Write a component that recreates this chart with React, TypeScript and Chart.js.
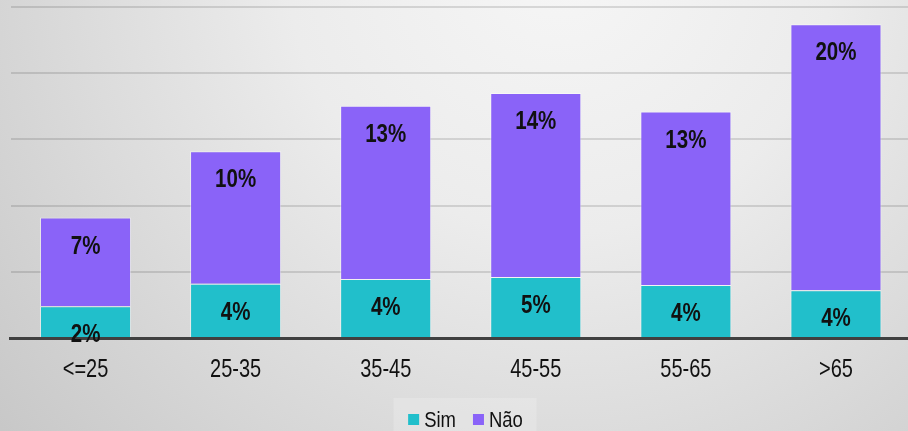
import React, { useEffect, useRef } from "react";
import { Chart, registerables } from "chart.js";

Chart.register(...registerables);

const categories = ["<=25", "25-35", "35-45", "45-55", "55-65", ">65"];
const simValues = [2.4, 4.1, 4.45, 4.6, 4.0, 3.6];
const naoValues = [6.7, 10.0, 13.1, 13.9, 13.1, 20.1];
const seriesNames = ["Sim", "Não"];
const seriesColors = ["#21bfcb", "#8a63f8"];
const yTicks = [0, 5, 10, 15, 20, 25];

const FONT = "'Liberation Sans', Arial, sans-serif";

function drawNarrow(ctx: any, text: string, x: number, y: number, sx: number, align: string) {
  ctx.save();
  ctx.translate(x, y);
  ctx.scale(sx, 1);
  ctx.textAlign = align;
  ctx.fillText(text, 0, 0);
  ctx.restore();
}

const bgPlugin = {
  id: "bgPlugin",
  beforeDraw(chart: any) {
    const { ctx, width, height } = chart;
    ctx.save();
    const g = ctx.createRadialGradient(560, -40, 0, 560, -40, 780);
    g.addColorStop(0, "#f6f6f6");
    g.addColorStop(0.35, "#ececec");
    g.addColorStop(1, "#c4c4c4");
    ctx.fillStyle = g;
    ctx.fillRect(0, 0, width, height);
    ctx.restore();
  },
};

const textPlugin = {
  id: "textPlugin",
  afterDraw(chart: any) {
    const { ctx } = chart;
    ctx.save();
    ctx.fillStyle = "#111";
    ctx.textBaseline = "alphabetic";

    // data labels
    ctx.font = `bold 25px ${FONT}`;
    chart.data.datasets.forEach((ds: any, di: number) => {
      const meta = chart.getDatasetMeta(di);
      meta.data.forEach((bar: any, i: number) => {
        drawNarrow(ctx, `${Math.round(ds.data[i])}%`, bar.x, bar.y + 36, 0.82, "center");
      });
    });

    // category labels
    const xs = chart.scales.x;
    ctx.font = `25px ${FONT}`;
    chart.data.labels.forEach((lab: string, i: number) => {
      drawNarrow(ctx, lab, xs.getPixelForTick(i), xs.bottom + 38.5, 0.8, "center");
    });

    // legend
    ctx.font = `22px ${FONT}`;
    const sx = 0.84;
    const box = 11;
    const items = chart.data.datasets.map((ds: any, i: number) => ({
      text: ds.label,
      color: seriesColors[i],
      w: box + 5 + ctx.measureText(ds.label).width * sx,
    }));
    const gap = 17;
    const total = items.reduce((a: number, it: any) => a + it.w, 0) + gap * (items.length - 1);
    const cx = 465.5;
    ctx.fillStyle = "rgba(255,255,255,0.2)";
    ctx.fillRect(cx - 72, 398, 143, 40);
    let x = cx - total / 2;
    const baseY = 427;
    items.forEach((it: any) => {
      ctx.fillStyle = it.color;
      ctx.fillRect(x, baseY - 13, box, box);
      ctx.fillStyle = "#111";
      drawNarrow(ctx, it.text, x + box + 5, baseY, sx, "left");
      x += it.w + gap;
    });
    ctx.restore();
  },
};

export default function App() {
  const ref = useRef<HTMLCanvasElement | null>(null);
  useEffect(() => {
    if (!ref.current) return;
    const chart = new Chart(ref.current, {
      type: "bar",
      data: {
        labels: categories,
        datasets: [
          {
            label: seriesNames[0],
            data: simValues,
            backgroundColor: seriesColors[0],
            borderColor: "rgba(255,255,255,0.5)",
            borderWidth: 1,
            barPercentage: 0.607,
            categoryPercentage: 1,
          },
          {
            label: seriesNames[1],
            data: naoValues,
            backgroundColor: seriesColors[1],
            borderColor: "rgba(255,255,255,0.45)",
            borderWidth: 1,
            barPercentage: 0.607,
            categoryPercentage: 1,
          },
        ],
      },
      options: {
        responsive: false,
        animation: false,
        layout: { padding: { left: 10.5, right: 1, top: 7, bottom: 93 } },
        plugins: {
          legend: { display: false },
          tooltip: { enabled: false },
        },
        scales: {
          x: {
            stacked: true,
            z: 1,
            grid: { display: false, drawTicks: false },
            border: { display: true, color: "#404040", width: 3 },
            ticks: { display: false },
          },
          y: {
            stacked: true,
            min: yTicks[0],
            max: yTicks[yTicks.length - 1],
            afterBuildTicks: (axis: any) => {
              axis.ticks = yTicks.map((v) => ({ value: v }));
            },
            z: 1,
            grid: { color: "rgba(0,0,0,0.12)", lineWidth: 2, drawTicks: false },
            border: { display: false },
            ticks: { display: false },
          },
        },
      },
      plugins: [bgPlugin, textPlugin],
    });
    return () => chart.destroy();
  }, []);
  return (
    <div style={{ position: "absolute", left: 0, top: 0, width: 908, height: 431, overflow: "hidden" }}>
      <canvas ref={ref} width={912} height={431} style={{ display: "block" }} />
    </div>
  );
}
